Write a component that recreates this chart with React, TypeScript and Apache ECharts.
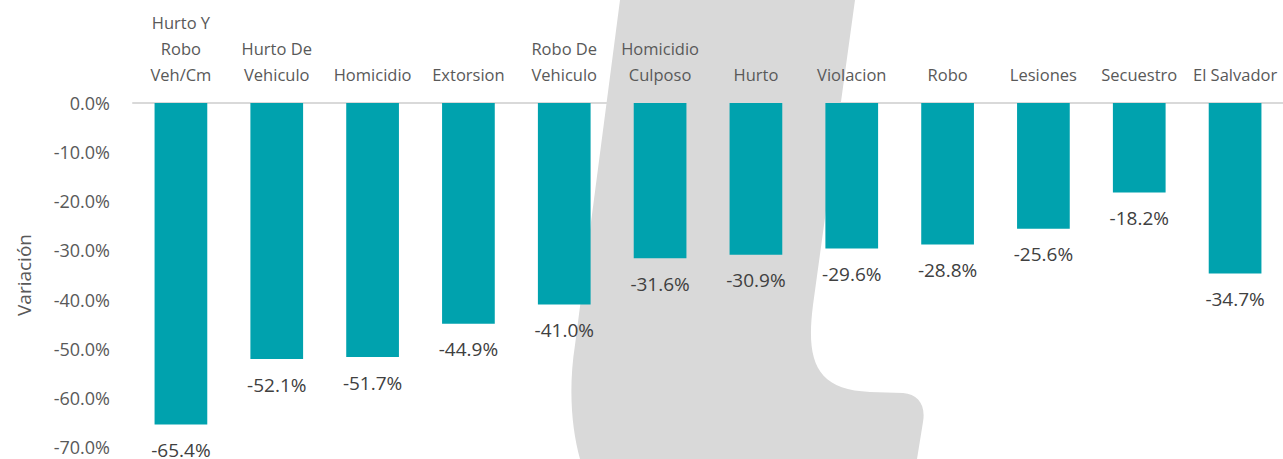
import React, { useEffect, useRef } from "react";
import * as echarts from "echarts";

const categories = [
  "Hurto Y\nRobo\nVeh/Cm",
  "Hurto De\nVehiculo",
  "Homicidio",
  "Extorsion",
  "Robo De\nVehiculo",
  "Homicidio\nCulposo",
  "Hurto",
  "Violacion",
  "Robo",
  "Lesiones",
  "Secuestro",
  "El Salvador",
];
const values = [-65.4, -52.1, -51.7, -44.9, -41.0, -31.6, -30.9, -29.6, -28.8, -25.6, -18.2, -34.7];
const yMin = -70;
const yMax = 0;
const yStep = 10;
const yAxisName = "Variación";

const shapePath =
  "M620 0 L855 0 L813 305 C806 360 815 390 870 392 L903 393 C918 394 926 405 923 422 L917 459 L580 459 C572 430 568 390 575 345 Z";

let registered = false;

export default function App() {
  const ref = useRef<HTMLDivElement>(null);
  useEffect(() => {
    if (!registered) {
      echarts.graphic.registerShape("bgshape", echarts.graphic.extendPath(shapePath, {}) as any);
      registered = true;
    }
    const chart = echarts.init(ref.current!, undefined, { renderer: "svg" });
    const font = "'Open Sans', 'Noto Sans', sans-serif";
    chart.setOption({
      animation: false,
      textStyle: { fontFamily: font },
      graphic: [
        {
          type: "bgshape",
          x: 0,
          y: 0,
          z: -10,
          silent: true,
          style: { fill: "#D9D9D9" },
        },
      ],
      grid: { left: 133, right: 0, top: 103, bottom: 12, containLabel: false },
      xAxis: {
        type: "category",
        position: "top",
        data: categories,
        axisLine: { show: true, lineStyle: { color: "#D9D9D9", width: 2 } },
        axisTick: { show: false },
        axisLabel: {
          interval: 0,
          color: "#595959",
          fontSize: 16.5,
          lineHeight: 26,
          margin: 16,
          fontFamily: font,
        },
        z: 3,
      },
      yAxis: {
        type: "value",
        min: yMin,
        max: yMax,
        interval: yStep,
        name: yAxisName,
        nameLocation: "middle",
        nameGap: 100,
        nameTextStyle: { color: "#595959", fontSize: 19, fontFamily: font },
        axisLine: { show: false },
        axisTick: { show: false },
        splitLine: { show: false },
        axisLabel: {
          color: "#595959",
          fontSize: 18,
          margin: 23,
          fontFamily: font,
          formatter: (v: number) => v.toFixed(1) + "%",
        },
      },
      series: [
        {
          type: "bar",
          data: values,
          barWidth: "55%",
          itemStyle: { color: "#00A2AE" },
          z: 5,
          label: {
            show: true,
            position: "bottom",
            distance: 16,
            color: "#404040",
            fontSize: 19,
            fontFamily: font,
            formatter: (p: any) => Number(p.value).toFixed(1) + "%",
          },
        },
      ],
    });
    return () => chart.dispose();
  }, []);
  return (
    <div
      ref={ref}
      style={{ position: "absolute", left: 0, top: 0, width: 1283, height: 459, background: "#fff" }}
    />
  );
}
